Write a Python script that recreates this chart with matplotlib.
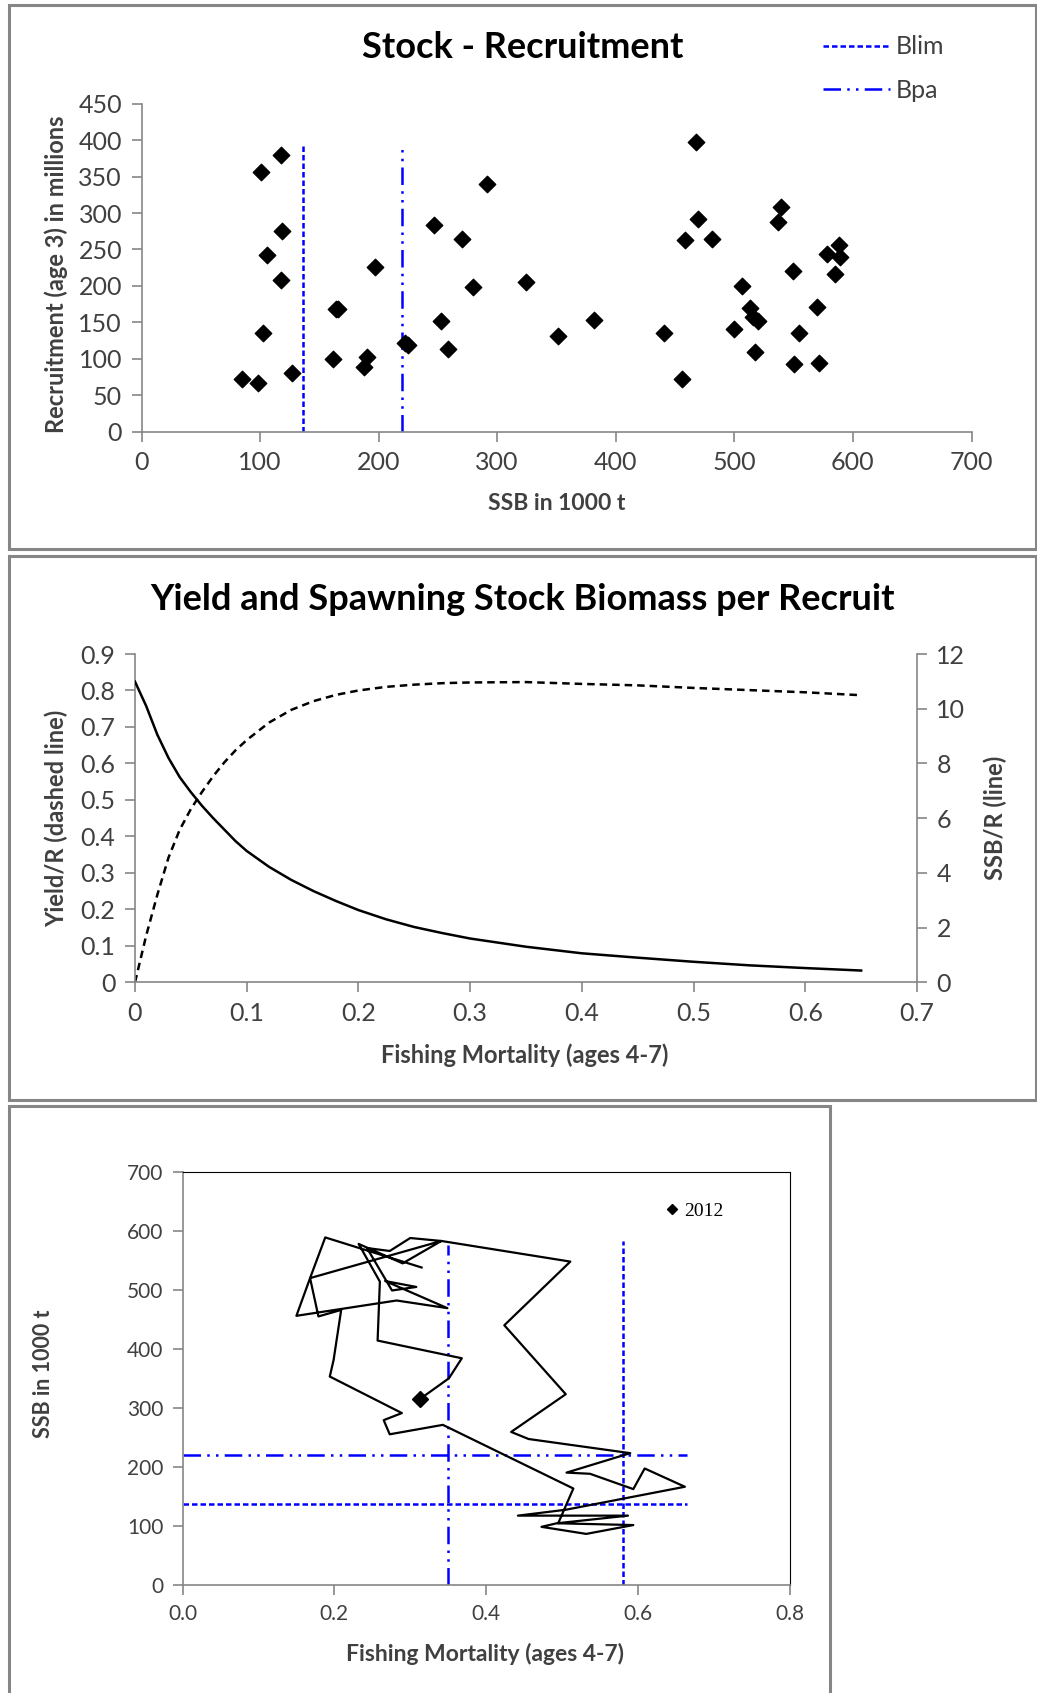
import matplotlib.pyplot as plt
from matplotlib.patches import Rectangle

W, H = 1037, 1693
plt.rcParams['font.family'] = ['Lato', 'DejaVu Sans']

# stock - recruitment scatter
ssb_sr = [100.8, 117.4, 118.8, 106.1, 117.7, 102.7, 85.0, 98.3, 126.7, 164.0, 165.5,
          161.5, 189.9, 187.9, 197.2, 222.2, 224.5, 247.0, 252.6, 258.8, 291.6, 270.6,
          279.3, 324.3, 351.3, 381.9, 440.7, 467.7, 469.1, 458.6, 481.4, 455.6, 506.2,
          513.2, 515.5, 520.2, 500.0, 517.0, 539.6, 537.1, 549.7, 569.7, 554.8, 550.6,
          571.4, 588.3, 578.4, 589.1, 584.9]
rec_sr = [356.6, 380.0, 274.9, 242.8, 208.5, 135.0, 72.3, 66.8, 80.1, 167.9, 169.0,
          99.3, 102.9, 88.3, 225.5, 121.2, 118.5, 283.1, 152.3, 113.0, 339.8, 263.9,
          198.1, 205.8, 131.7, 152.7, 135.0, 397.8, 291.8, 263.0, 263.9, 72.3, 199.9,
          170.1, 156.9, 152.3, 140.4, 109.3, 307.8, 288.1, 220.4, 170.6, 135.4, 92.9,
          94.2, 256.1, 243.3, 240.0, 215.9]
blim = 136
bpa = 220
flim = 0.58
fpa = 0.35

# yield and SSB per recruit
f_grid = [0, 0.01, 0.02, 0.03, 0.04, 0.05, 0.06, 0.07, 0.08, 0.09, 0.1, 0.12, 0.14,
          0.16, 0.18, 0.2, 0.225, 0.25, 0.275, 0.3, 0.35, 0.4, 0.45, 0.5, 0.55, 0.6, 0.65]
yield_r = [0, 0.128, 0.24, 0.342, 0.418, 0.475, 0.522, 0.565, 0.603, 0.636, 0.664,
           0.712, 0.747, 0.771, 0.788, 0.8, 0.81, 0.816, 0.82, 0.822, 0.823, 0.818,
           0.814, 0.807, 0.801, 0.795, 0.787]
ssb_r = [10.99, 10.1, 9.05, 8.2, 7.5, 6.95, 6.45, 6.0, 5.58, 5.16, 4.8, 4.22, 3.74,
         3.33, 2.97, 2.64, 2.3, 2.02, 1.8, 1.6, 1.3, 1.06, 0.9, 0.75, 0.62, 0.52, 0.43]

# F vs SSB trajectory, ending 2012
f_traj = [0.315, 0.188, 0.168, 0.341, 0.511, 0.424, 0.505, 0.433, 0.456, 0.590,
          0.506, 0.537, 0.594, 0.609, 0.662, 0.505, 0.442, 0.587, 0.493, 0.473,
          0.532, 0.594, 0.495, 0.515, 0.343, 0.273, 0.265, 0.289, 0.194, 0.199,
          0.209, 0.179, 0.168, 0.150, 0.282, 0.349, 0.267, 0.308, 0.276, 0.243,
          0.273, 0.300, 0.341, 0.290, 0.232, 0.260, 0.257, 0.368, 0.351, 0.313]
ssb_traj = [538, 589, 520, 583, 548, 440, 323, 259, 247, 223,
            190, 188, 162, 197, 166, 127, 117, 117, 104, 98,
            86, 101, 104, 163, 271, 255, 279, 291, 353, 381,
            466, 455, 520, 456, 482, 469, 515, 505, 499, 571,
            566, 588, 583, 545, 578, 514, 414, 384, 350, 315]

grey = '#868686'
txt = '#404040'
blue = '#0000ff'
dash = (0, (2.2, 1.2))
dashdot = (0, (7, 2.5, 1, 2.5, 1, 2.5))


def fx(px):
    return px / W


def fy(py):
    return 1 - py / H


def axes_px(left, top, right, bottom):
    return [fx(left), fy(bottom), (right - left) / W, (bottom - top) / H]


def style(ax, spines, size):
    for s in ['left', 'right', 'top', 'bottom']:
        ax.spines[s].set_visible(s in spines)
        ax.spines[s].set_color(grey)
        ax.spines[s].set_linewidth(1.2)
    ax.tick_params(direction='out', length=7, width=1.2, color=grey,
                   labelsize=size, labelcolor=txt, pad=7)


fig = plt.figure(figsize=(W / 100, H / 100), dpi=100)

# panel frames
for (l, t, r, b) in [(9, 5, 1036, 549), (9, 556, 1036, 1100), (9, 1106, 830, 1700)]:
    fig.add_artist(Rectangle((fx(l), fy(b)), (r - l) / W, (b - t) / H,
                             transform=fig.transFigure, fill=False,
                             edgecolor=grey, lw=2.2))

# ---- panel 1
ax1 = fig.add_axes(axes_px(141.5, 103.7, 971.5, 431.7))
ax1.scatter(ssb_sr, rec_sr, marker='D', s=70, color='black', zorder=3)
l1, = ax1.plot([blim, blim], [0, 393], ls=dash, color=blue, lw=1.8)
l2, = ax1.plot([bpa, bpa], [0, 393], ls=dashdot, color=blue, lw=1.8)
ax1.set_xlim(0, 700)
ax1.set_ylim(0, 450)
ax1.set_xticks(range(0, 701, 100))
ax1.set_yticks(range(0, 451, 50))
style(ax1, ['left', 'bottom'], 18)
fig.text(fx(523), fy(48), 'Stock - Recruitment', ha='center', va='center',
         fontsize=26, fontweight='bold', color='black')
fig.text(fx(56), fy(274), 'Recruitment (age 3) in millions', ha='center', va='center',
         rotation=90, fontsize=17, fontweight='bold', color=txt)
fig.text(fx(557), fy(504), 'SSB in 1000 t', ha='center', va='center',
         fontsize=16.5, fontweight='bold', color=txt)
fig.legend([l1, l2], ['Blim', 'Bpa'], loc='upper left',
           bbox_to_anchor=(fx(800), fy(13)), frameon=False, fontsize=18,
           handlelength=2.7, labelspacing=0.8, handletextpad=0.25,
           labelcolor=txt)

# ---- panel 2
ax2 = fig.add_axes(axes_px(135, 654, 917, 982.3))
ax2.plot(f_grid, yield_r, color='black', ls=(0, (3, 2)), lw=1.8)
ax2.set_xlim(0, 0.7)
ax2.set_ylim(0, 0.9)
ax2.set_xticks([0, 0.1, 0.2, 0.3, 0.4, 0.5, 0.6, 0.7])
ax2.set_xticklabels(['0', '0.1', '0.2', '0.3', '0.4', '0.5', '0.6', '0.7'])
ax2.set_yticks([0, 0.1, 0.2, 0.3, 0.4, 0.5, 0.6, 0.7, 0.8, 0.9])
ax2.set_yticklabels(['0', '0.1', '0.2', '0.3', '0.4', '0.5', '0.6', '0.7', '0.8', '0.9'])
style(ax2, ['left', 'bottom'], 18)
ax2b = ax2.twinx()
ax2b.plot(f_grid, ssb_r, color='black', lw=1.8)
ax2b.set_ylim(0, 12)
ax2b.set_yticks(range(0, 13, 2))
style(ax2b, ['right'], 18)
fig.text(fx(523), fy(600), 'Yield and Spawning Stock Biomass per Recruit', ha='center',
         va='center', fontsize=26, fontweight='bold', color='black')
fig.text(fx(56), fy(818), 'Yield/R (dashed line)', ha='center', va='center',
         rotation=90, fontsize=17, fontweight='bold', color=txt)
fig.text(fx(995), fy(818), 'SSB/R (line)', ha='center', va='center',
         rotation=90, fontsize=17, fontweight='bold', color=txt)
fig.text(fx(525), fy(1055), 'Fishing Mortality (ages 4-7)', ha='center', va='center',
         fontsize=17, fontweight='bold', color=txt)

# ---- panel 3
ax3 = fig.add_axes(axes_px(182.6, 1172, 789.6, 1584.6))
ax3.plot(f_traj, ssb_traj, color='black', lw=1.6, zorder=3)
ax3.plot([fpa, fpa], [0, 576], ls=dashdot, color=blue, lw=1.8)
ax3.plot([flim, flim], [0, 583], ls=dash, color=blue, lw=1.8)
ax3.plot([0, 0.665], [bpa, bpa], ls=dashdot, color=blue, lw=1.8)
ax3.plot([0, 0.665], [blim, blim], ls=dash, color=blue, lw=1.8)
pt, = ax3.plot(f_traj[-1:], ssb_traj[-1:], marker='D', ms=8, color='black', ls='none', zorder=4)
ax3.set_xlim(0, 0.8)
ax3.set_ylim(0, 700)
ax3.set_xticks([0, 0.2, 0.4, 0.6, 0.8])
ax3.set_xticklabels(['0.0', '0.2', '0.4', '0.6', '0.8'])
ax3.set_yticks(range(0, 701, 100))
style(ax3, ['left', 'bottom', 'top', 'right'], 15)
ax3.spines['top'].set_color('black')
ax3.spines['right'].set_color('black')
ax3.spines['top'].set_linewidth(0.8)
ax3.spines['right'].set_linewidth(0.8)
ax3.legend([pt], ['2012'], loc='center left', bbox_to_anchor=(0.768, 0.905),
           frameon=False, handlelength=0.6, handletextpad=0.3, markerscale=0.7,
           prop={'family': ['Liberation Serif'], 'size': 14})
fig.text(fx(43), fy(1374), 'SSB in 1000 t', ha='center', va='center',
         rotation=90, fontsize=15.5, fontweight='bold', color=txt)
fig.text(fx(485), fy(1654), 'Fishing Mortality (ages 4-7)', ha='center', va='center',
         fontsize=16.5, fontweight='bold', color=txt)

fig.savefig('out.png', dpi=100)
